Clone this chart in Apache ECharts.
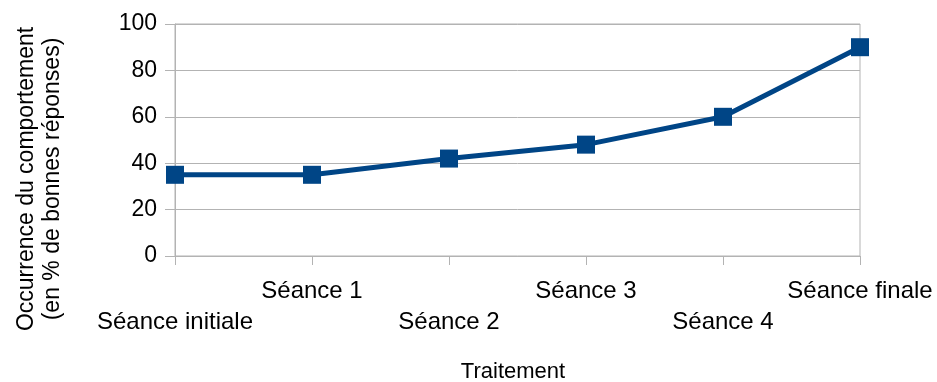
<!DOCTYPE html>
<html>
<head>
<meta charset="utf-8">
<script src="https://cdn.jsdelivr.net/npm/echarts@6/dist/echarts.min.js"></script>
<style>
  html, body { margin: 0; padding: 0; background: #fff; }
  #chart { width: 937px; height: 382px; }
</style>
</head>
<body>
<div id="chart"></div>
<script>
// Sessions of the treatment and the observed rate of correct answers (%)
const categories = ['Séance initiale', 'Séance 1', 'Séance 2', 'Séance 3', 'Séance 4', 'Séance finale'];
const values = [35, 35, 42, 48, 60, 90];
const yTicks = { min: 0, max: 100, interval: 20 };

const FONT = '"Liberation Sans", Arial, sans-serif';
const GRID_COLOR = '#b3b3b3';
const LINE_COLOR = '#004586';

const chart = echarts.init(document.getElementById('chart'), null, { renderer: 'canvas' });

chart.setOption({
  animation: false,
  backgroundColor: '#ffffff',
  grid: {
    left: 175, right: 77, top: 24, bottom: 126,
    show: true, borderColor: GRID_COLOR, borderWidth: 1
  },
  xAxis: {
    type: 'category',
    data: categories,
    boundaryGap: false,
    axisLine: { lineStyle: { color: GRID_COLOR, width: 1 } },
    axisTick: { show: true, length: 9, interval: 0, lineStyle: { color: GRID_COLOR } },
    splitLine: { show: false },
    axisLabel: {
      interval: 0,
      margin: 20,
      color: '#000',
      fontFamily: FONT,
      fontSize: 24,
      lineHeight: 31,
      alignMinLabel: 'center',
      alignMaxLabel: 'center',
      // alternate rows so the long labels do not collide
      formatter: (v, i) => (i % 2 === 0 ? '\n' + v : v)
    }
  },
  yAxis: {
    type: 'value',
    min: yTicks.min,
    max: yTicks.max,
    interval: yTicks.interval,
    axisLine: { show: true, lineStyle: { color: GRID_COLOR, width: 1 } },
    axisTick: { show: true, length: 10, lineStyle: { color: GRID_COLOR } },
    splitLine: { show: true, lineStyle: { color: GRID_COLOR, width: 1 } },
    axisLabel: {
      margin: 18,
      color: '#000',
      fontFamily: FONT,
      fontSize: 23
    }
  },
  graphic: [
    {
      type: 'text',
      x: 27, y: 179,
      rotation: Math.PI / 2,
      style: {
        text: 'Occurrence du comportement',
        font: '23px ' + FONT,
        fill: '#000',
        align: 'center',
        verticalAlign: 'middle'
      }
    },
    {
      type: 'text',
      x: 53, y: 179,
      rotation: Math.PI / 2,
      style: {
        text: '(en % de bonnes réponses)',
        font: '23px ' + FONT,
        fill: '#000',
        align: 'center',
        verticalAlign: 'middle'
      }
    },
    {
      type: 'text',
      x: 513, y: 372,
      style: {
        text: 'Traitement',
        font: '22px ' + FONT,
        fill: '#000',
        align: 'center',
        verticalAlign: 'middle'
      }
    }
  ],
  series: [{
    type: 'line',
    data: values,
    symbol: 'rect',
    symbolSize: 18,
    lineStyle: { color: LINE_COLOR, width: 5 },
    itemStyle: { color: LINE_COLOR }
  }]
});
</script>
</body>
</html>
